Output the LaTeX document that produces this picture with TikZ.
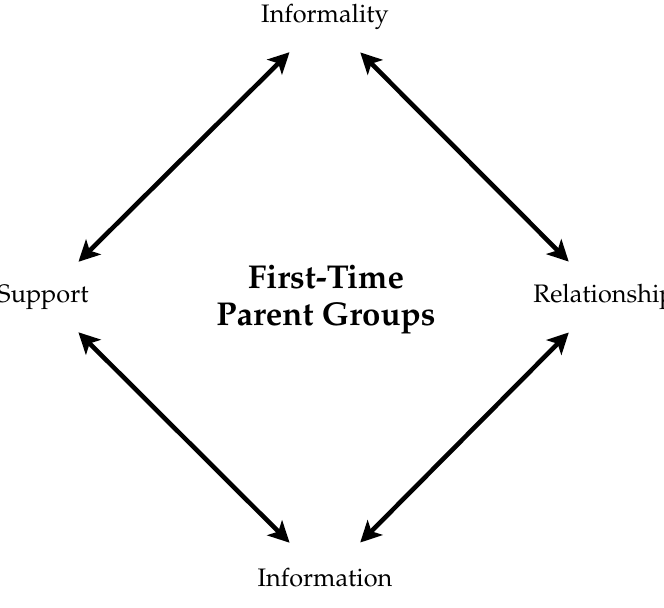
\documentclass[tikz,border=0pt]{standalone}
\usepackage[T1]{fontenc}
\usepackage{mathpazo}
\usepackage{tikz}
\usetikzlibrary{
  arrows.meta,
  positioning
}

\begin{document}
\begin{tikzpicture}[x=0.02cm, y=-0.02cm,
    every node/.style={font=\Large},
    link/.style={{Stealth[length=12pt,width=12pt,inset=3pt]}-{Stealth[length=12pt,width=12pt,inset=3pt]},
      line width=2.6pt, shorten <=1cm, shorten >=1cm}]
    \useasboundingbox (0,0) rectangle (664,608);

    % Titel in der Mitte
    \node[font=\fontsize{18.8}{21}\selectfont\bfseries, align=center, inner sep=0pt] (titel) at (326,300)
      {First-Time\\Parent Groups};

    % Die vier Ecken der Raute
    \node (inf) at (325,17) {Informality};
    \node (sup) at (43,297) {Support};
    \node (rel) at (604,297) {Relationship};
    \node (info) at (325,578) {Information};

    % Doppelpfeile
    \draw[link] (sup.center) -- (inf.center);
    \draw[link] (inf.center) -- (rel.center);
    \draw[link] (sup.center) -- (info.center);
    \draw[link] (rel.center) -- (info.center);
  \end{tikzpicture}
\end{document}
